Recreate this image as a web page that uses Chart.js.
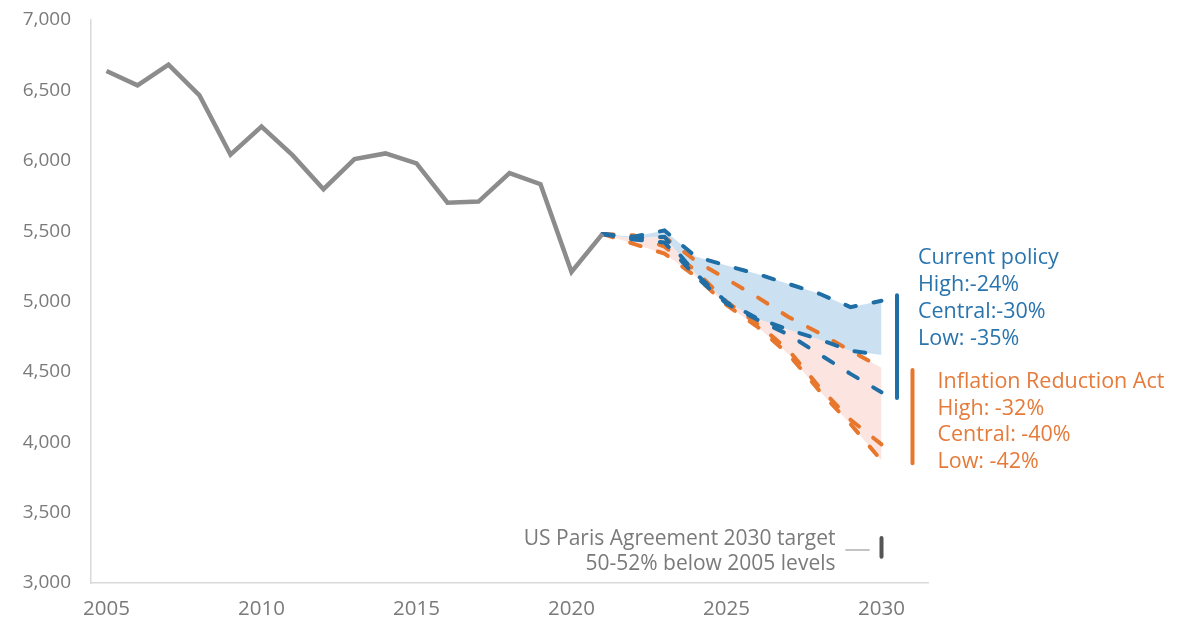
<!DOCTYPE html>
<html>
<head>
<meta charset="utf-8">
<script src="https://cdn.jsdelivr.net/npm/chart.js@4/dist/chart.umd.min.js"></script>
<style>
  html, body { margin: 0; padding: 0; background: #fff; }
  #wrap { width: 1186px; height: 623px; }
</style>
</head>
<body>
<div id="wrap"><canvas id="chart"></canvas></div>
<script>
// historical emissions (2005-2021)
const histYears = [2005, 2006, 2007, 2008, 2009, 2010, 2011, 2012, 2013, 2014, 2015, 2016, 2017, 2018, 2019, 2020, 2021];
const histValues = [6638, 6536, 6683, 6464, 6043, 6243, 6040, 5798, 6012, 6052, 5981, 5702, 5710, 5912, 5833, 5210, 5480];

// projections (2021-2030)
const projYears = [2021, 2022, 2023, 2024, 2025, 2026, 2027, 2028, 2029, 2030];
const curHigh = [5480, 5460, 5505, 5320, 5255, 5195, 5125, 5055, 4960, 5005];
const curCentral = [5480, 5450, 5460, 5200, 4995, 4880, 4800, 4730, 4650, 4620];
const curLow = [5480, 5440, 5420, 5180, 4985, 4870, 4765, 4625, 4486, 4355];
const iraHigh = [5480, 5450, 5458, 5290, 5160, 5030, 4890, 4775, 4650, 4530];
const iraCentral = [5480, 5470, 5390, 5220, 5000, 4840, 4655, 4390, 4160, 3985];
const iraLow = [5480, 5410, 5340, 5180, 4975, 4820, 4625, 4365, 4130, 3870];

// range markers at the right
const curRange = [5045, 4315];
const iraRange = [4514, 3850];
const parisRange = [3319, 3186];

const xTicks = [2005, 2010, 2015, 2020, 2025, 2030];
const yTicks = [3000, 3500, 4000, 4500, 5000, 5500, 6000, 6500, 7000];

const curLabels = ['Current policy', 'High:-24%', 'Central:-30%', 'Low: -35%'];
const iraLabels = ['Inflation Reduction Act', 'High: -32%', 'Central: -40%', 'Low: -42%'];
const parisLabels = ['US Paris Agreement 2030 target', '50-52% below 2005 levels'];

const BLUE = '#1f6ea6';
const ORANGE = '#e8772e';
const GREY = '#8c8c8c';
const TEXT_GREY = '#7a7a7a';
const FONT = "'Open Sans', sans-serif";

const pts = (xs, ys) => ys.map((y, i) => ({ x: xs[i], y }));
const vbar = (x, range) => range.map((y) => ({ x, y }));

const dashed = (data, color, extra) => ({
  data,
  borderColor: color,
  borderWidth: 4,
  borderDash: [11, 18],
  borderCapStyle: 'round',
  pointRadius: 0,
  tension: 0,
  fill: false,
  ...extra
});

const solidBar = (data, color, width) => ({
  data,
  borderColor: color,
  borderWidth: width,
  borderCapStyle: 'round',
  pointRadius: 0,
  fill: false
});

const annotations = {
  id: 'annotations',
  afterDatasetsDraw(chart) {
    const { ctx, scales: { x, y } } = chart;
    ctx.save();
    ctx.textBaseline = 'middle';
    ctx.font = `21.5px ${FONT}`;

    // current policy
    ctx.fillStyle = '#2a74ae';
    ctx.textAlign = 'left';
    const cx = x.getPixelForValue(2030.5) + 21;
    const cy = y.getPixelForValue(curRange[0]);
    curLabels.forEach((t, i) => ctx.fillText(t, cx, cy - 37 + i * 27));

    // inflation reduction act
    ctx.fillStyle = '#e57b3a';
    const ox = x.getPixelForValue(2031) + 25;
    const oy = y.getPixelForValue(iraRange[0]);
    iraLabels.forEach((t, i) => ctx.fillText(t, ox, oy + 12 + i * 26.7));

    // paris target
    ctx.fillStyle = TEXT_GREY;
    ctx.textAlign = 'right';
    ctx.font = `21px ${FONT}`;
    const px = x.getPixelForValue(2030) - 46;
    const py = y.getPixelForValue(parisRange[0]);
    parisLabels.forEach((t, i) => ctx.fillText(t, px, py + 1 + i * 25));
    ctx.restore();
  }
};

new Chart(document.getElementById('chart'), {
  type: 'line',
  data: {
    datasets: [
      { data: pts(histYears, histValues), borderColor: GREY, borderWidth: 4.5, pointRadius: 0, tension: 0, fill: false, borderJoinStyle: 'miter' },
      dashed(pts(projYears, curHigh), BLUE, { fill: 2, backgroundColor: '#cbe1f2' }),
      dashed(pts(projYears, curCentral), BLUE),
      dashed(pts(projYears, curLow), BLUE),
      dashed(pts(projYears, iraHigh), ORANGE, { fill: 6, backgroundColor: '#fce5e0' }),
      dashed(pts(projYears, iraCentral), ORANGE),
      dashed(pts(projYears, iraLow), ORANGE),
      solidBar(vbar(2030.5, curRange), BLUE, 4),
      solidBar(vbar(2031, iraRange), ORANGE, 4),
      solidBar(vbar(2030, parisRange), '#555555', 4),
      solidBar([{ x: 2028.85, y: 3235 }, { x: 2029.6, y: 3235 }], '#b0b0b0', 1.5)
    ]
  },
  options: {
    responsive: true,
    maintainAspectRatio: false,
    animation: false,
    devicePixelRatio: 1,
    layout: { padding: { top: 20, right: 258, left: 0, bottom: 0 } },
    plugins: {
      legend: { display: false },
      tooltip: { enabled: false },
      filler: { drawTime: 'beforeDatasetsDraw' }
    },
    scales: {
      x: {
        type: 'linear',
        min: 2004.5,
        max: 2031.5,
        afterBuildTicks: (scale) => { scale.ticks = xTicks.map((value) => ({ value })); },
        afterFit: (scale) => { scale.height = 40; },
        grid: { display: false, drawTicks: false },
        border: { display: true, color: '#d9d9d9', width: 1.5 },
        ticks: {
          padding: 14,
          color: TEXT_GREY,
          font: { family: FONT, size: 20.5 },
          maxRotation: 0,
          callback: (v) => String(v)
        }
      },
      y: {
        min: 3000,
        max: 7000,
        afterBuildTicks: (scale) => { scale.ticks = yTicks.map((value) => ({ value })); },
        afterFit: (scale) => {
          scale.width = 91;
          scale.paddingTop = 0;
          scale.paddingBottom = 0;
        },
        grid: { display: false, drawTicks: false },
        border: { display: true, color: '#d9d9d9', width: 1.5 },
        ticks: {
          padding: 20,
          color: TEXT_GREY,
          font: { family: FONT, size: 19 },
          callback: (v) => v.toLocaleString('en-US')
        }
      }
    }
  },
  plugins: [annotations]
});
</script>
</body>
</html>
